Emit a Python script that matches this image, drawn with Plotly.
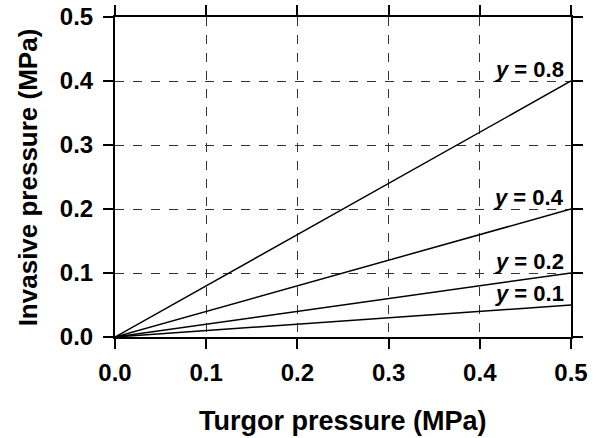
import plotly.graph_objects as go

turgor = [0.0, 0.5]
y_factors = [0.8, 0.4, 0.2, 0.1]
labels = ["0.8", "0.4", "0.2", "0.1"]
tick_vals = [0.0, 0.1, 0.2, 0.3, 0.4, 0.5]
tick_text = ["0.0", "0.1", "0.2", "0.3", "0.4", "0.5"]
x_title = "Turgor pressure (MPa)"
y_title = "Invasive pressure (MPa)"

FONT = "Liberation Sans, Arial, sans-serif"

fig = go.Figure()
for yf in y_factors:
    fig.add_trace(go.Scatter(
        x=turgor, y=[t * yf for t in turgor], mode="lines",
        line=dict(color="black", width=1.5), showlegend=False, hoverinfo="skip"))

for yf, lab in zip(y_factors, labels):
    fig.add_annotation(
        x=turgor[-1], y=turgor[-1] * yf, xref="x", yref="y",
        text=f"<b><i>y</i> = {lab}</b>", showarrow=False,
        xanchor="right", yanchor="bottom", xshift=-5, yshift=-3,
        font=dict(family=FONT, size=22, color="black"))

axis_common = dict(
    range=[0, 0.5], tickvals=tick_vals, ticktext=tick_text,
    showline=True, linecolor="black", linewidth=2, mirror="ticks",
    ticks="outside", ticklen=10, tickwidth=2, tickcolor="black",
    showgrid=True, gridcolor="#333333", gridwidth=1, griddash="dash",
    zeroline=False, automargin=False, ticklabeloverflow="allow",
    tickfont=dict(family=FONT, size=24, color="black", weight="bold"),
)

fig.update_xaxes(**axis_common, ticklabelstandoff=3)
fig.update_yaxes(**axis_common, ticklabelstandoff=5)

# axis titles
fig.add_annotation(x=0.5, y=-0.2625, xref="paper", yref="paper",
                   text=f"<b>{x_title}</b>", showarrow=False,
                   xanchor="center", yanchor="middle",
                   font=dict(family=FONT, size=27, color="black"))
fig.add_annotation(x=-0.19, y=0.5, xref="paper", yref="paper",
                   text=f"<b>{y_title}</b>", showarrow=False, textangle=-90,
                   xanchor="center", yanchor="middle",
                   font=dict(family=FONT, size=26, color="black"))

fig.update_layout(
    width=598, height=438,
    margin=dict(l=115, r=27, t=17, b=101),
    plot_bgcolor="white", paper_bgcolor="white",
)

# remove the page's default body margin so the figure fills the window
fig.write_html("out.html", config={"displayModeBar": False},
               post_script="document.body.style.margin='0px';")
